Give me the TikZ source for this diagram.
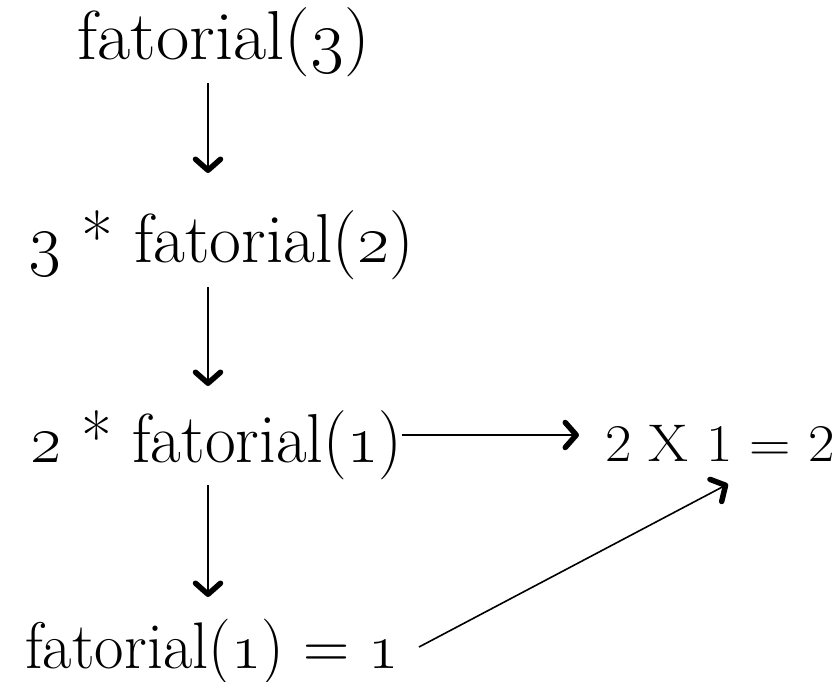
\RequirePackage{fix-cm}
\documentclass[tikz,border=0pt]{standalone}
\usetikzlibrary{arrows.meta}
\newcommand{\osn}[1]{\oldstylenums{#1}}
\tikzset{
  lbl/.style={anchor=base west, inner sep=0pt, font=\fontsize{63}{70}\selectfont},
  res/.style={anchor=base west, inner sep=0pt, font=\fontsize{53}{60}\selectfont},
  arr/.style={line width=1.6pt, -{Straight Barb[length=11pt,width=25pt,line width=5.5pt,round]}}
}
\begin{document}
\begin{tikzpicture}[x=1pt,y=-1pt]
\useasboundingbox (0,0) rectangle (840,682);
\node[lbl] (n1) at (77,60) {\scalebox{1.15}[1.1]{fatorial(\osn{3})}};
\node[lbl] (n2) at (28,262) {\scalebox{1.1}[1.1]{\osn{3} * fatorial(\osn{2})}};
\node[lbl] (n3) at (30,462) {\scalebox{1.06}[1.1]{\osn{2} * fatorial(\osn{1})}};
\node[lbl, font=\fontsize{61}{70}\selectfont] (n4) at (25,668) {\scalebox{1.05}[1.08]{fatorial(\osn{1}) = \osn{1}}};
\node[res] (r) at (605,461) {\scalebox{1.085}[1]{2 X 1 = 2}};
\coordinate (a1s) at (208,83);  \coordinate (a1e) at (208,173);
\coordinate (a2s) at (208,287); \coordinate (a2e) at (208,386);
\coordinate (a3s) at (208,485); \coordinate (a3e) at (208,597);
\coordinate (hs) at (402,435);  \coordinate (he) at (579,435);
\coordinate (ds) at (419,647);  \coordinate (de) at (728,484);
\draw[arr] (a1s) -- (a1e);
\draw[arr] (a2s) -- (a2e);
\draw[arr] (a3s) -- (a3e);
\draw[arr] (hs) -- (he);
\draw[arr] (ds) -- (de);
\end{tikzpicture}
\end{document}
